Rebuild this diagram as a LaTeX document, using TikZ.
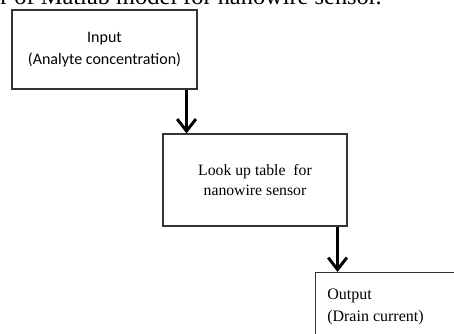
\documentclass[tikz,border=0pt]{standalone}
\usepackage{fontspec}
\setmainfont{Liberation Serif}
\newfontfamily\boxsans{Carlito}
\usetikzlibrary{arrows.meta}
\usetikzlibrary{positioning}
\usetikzlibrary{calc}

\tikzset{
  block/.style={draw=black!80,line width=0.8pt,fill=white,inner sep=0pt},
  flow/.style={line width=2.2pt,-{Straight Barb[length=9pt,width=14pt,line width=2.2pt]}}
}

\begin{document}
\begin{tikzpicture}[x=0.75pt,y=-0.75pt]
  \useasboundingbox (0,0) rectangle (454,334);
  % caption cut off at the top
  \node[anchor=base west,inner sep=0pt,font=\fontsize{18.3}{20}\selectfont] (title) at (0,5)
    {r of Matlab model for nanowire sensor.};

  \node[block,minimum width=138.75pt,minimum height=59.25pt,align=center,
        font=\boxsans\fontsize{12}{16.5}\selectfont] (input) at (104.5,49.5)
    {Input\\(Analyte concentration)};
  \node[block,minimum width=138pt,minimum height=69pt,align=center,
        font=\fontsize{11.8}{14.5}\selectfont] (table) at (255,180)
    {Look up table\ \ for\\nanowire sensor};
  \node[block,anchor=north west,minimum width=130pt,minimum height=80pt] (output) at (315,272) {};
  \node[anchor=north west,inner sep=0pt,align=left,
        font=\fontsize{12}{16.5}\selectfont] (outtext) at ($(output.north west)+(12,17)$)
    {Output\\(Drain current)};

  \coordinate (a_0) at ($(input.south east)+(-11,0)$);
  \coordinate (a_1) at ($(table.south east)+(-10,0)$);
  \path[flow]
    (a_0) edge (a_0 |- table.north)
    (a_1) edge (a_1 |- output.north);
\end{tikzpicture}
\end{document}
